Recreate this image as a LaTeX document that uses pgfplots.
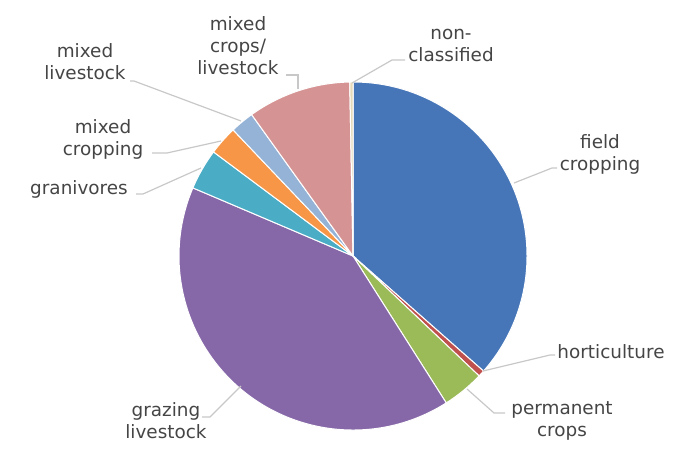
\documentclass[border=0pt]{standalone}
\usepackage{pgfplots}
\usepackage{pgfplotstable}
\pgfplotsset{compat=1.18}
\usepackage{fontspec}
\setmainfont{DejaVu Sans}
\definecolor{cfield}{HTML}{4676B8}
\definecolor{chort}{HTML}{C0504D}
\definecolor{cperm}{HTML}{9BBB59}
\definecolor{cgraz}{HTML}{8668A8}
\definecolor{cgran}{HTML}{4BACC6}
\definecolor{cmcrop}{HTML}{F79646}
\definecolor{cmlive}{HTML}{95B3D7}
\definecolor{cmix}{HTML}{D69393}
\definecolor{cnon}{HTML}{E6D9B8}
\definecolor{lbl}{HTML}{454545}
\definecolor{leader}{HTML}{C8C8C8}

% shares in percent, clockwise from 12 o'clock
\pgfplotstableread{
share colour
36.5 cfield
0.6  chort
3.9  cperm
40.4 cgraz
3.8  cgran
2.7  cmcrop
2.2  cmlive
9.6  cmix
0.3  cnon
}\piedata

\begin{document}
\begin{tikzpicture}
\begin{axis}[
    x=0.5pt, y=0.5pt,
    xmin=0, xmax=689, ymin=-442, ymax=0,
    hide axis, clip=false,
]
\path (axis cs:0,-442) rectangle (axis cs:689,0);
\pgfplotstablegetrowsof{\piedata}
\pgfmathtruncatemacro\nrows{\pgfplotsretval-1}
\gdef\startang{90}
\pgfplotsforeachungrouped \i in {0,...,\nrows}{%
  \pgfplotstablegetelem{\i}{share}\of\piedata
  \let\val\pgfplotsretval
  \pgfplotstablegetelem{\i}{colour}\of\piedata
  \let\col\pgfplotsretval
  \pgfmathsetmacro\endang{\startang-3.6*\val}%
  \edef\temp{\noexpand\fill[\col, draw=white, line width=0.5pt]
    (axis cs:353,-256) -- ++(\startang:87pt)
    arc[start angle=\startang, end angle=\endang, radius=87pt] -- cycle;}%
  \temp
  \global\let\startang\endang
}

% leader lines
\begin{scope}[leader, line width=0.6pt]
\draw (axis cs:352,-83) -- (axis cs:392,-60) -- (axis cs:405,-60);
\draw (axis cs:298,-89) -- (axis cs:298,-75) -- (axis cs:286,-75);
\draw (axis cs:241,-121) -- (axis cs:134,-81) -- (axis cs:130,-81);
\draw (axis cs:221,-141) -- (axis cs:167,-153) -- (axis cs:152,-153);
\draw (axis cs:201,-168) -- (axis cs:143,-194) -- (axis cs:136,-194);
\draw (axis cs:514,-183) -- (axis cs:552,-168) -- (axis cs:557,-168);
\draw (axis cs:483,-371) -- (axis cs:550,-355) -- (axis cs:555,-355);
\draw (axis cs:467,-389) -- (axis cs:494,-413) -- (axis cs:505,-413);
\draw (axis cs:241,-386) -- (axis cs:210,-417) -- (axis cs:202,-417);
\end{scope}

% labels
\begin{scope}[every node/.style={text=lbl, align=center,
    font=\fontsize{9.2}{11}\selectfont, inner sep=0pt}]
\node at (axis cs:451,-45) {non-\\classified};
\node at (axis cs:238,-46) {mixed\\crops/\\livestock};
\node at (axis cs:85,-62) {mixed\\livestock};
\node at (axis cs:103,-139) {mixed\\cropping};
\node at (axis cs:79,-189) {granivores};
\node at (axis cs:600,-154) {field\\cropping};
\node at (axis cs:611,-352) {horticulture};
\node at (axis cs:562,-421) {permanent\\crops};
\node at (axis cs:166,-421) {grazing\\livestock};
\end{scope}
\end{axis}
\end{tikzpicture}
\end{document}
